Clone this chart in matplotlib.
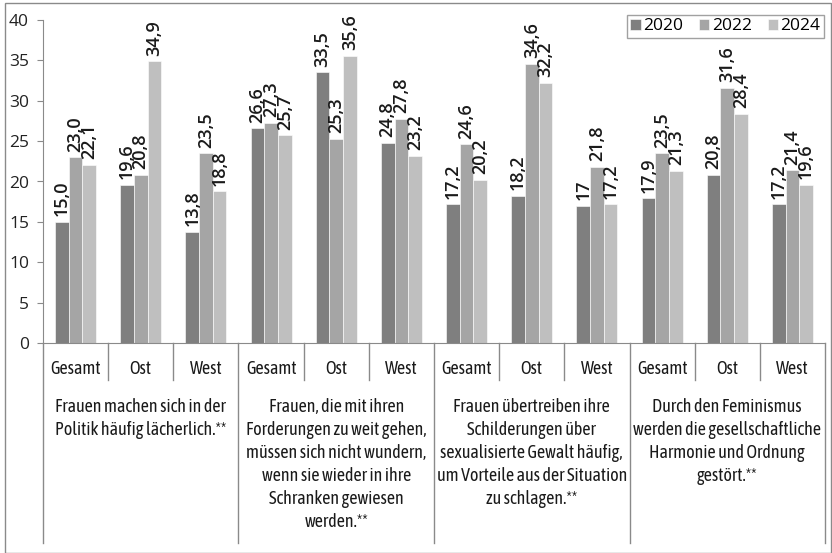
import numpy as np
import matplotlib
matplotlib.use("Agg")
import matplotlib.pyplot as plt
from matplotlib.patches import Rectangle
from matplotlib.transforms import blended_transform_factory

# data
years = ['2020', '2022', '2024']
regions = ['Gesamt', 'Ost', 'West']
v2020 = [15.0, 19.6, 13.8, 26.6, 33.5, 24.8, 17.2, 18.2, 17.0, 17.9, 20.8, 17.2]
v2022 = [23.0, 20.8, 23.5, 27.3, 25.3, 27.8, 24.6, 34.6, 21.8, 23.5, 31.6, 21.4]
v2024 = [22.1, 34.9, 18.8, 25.7, 35.6, 23.2, 20.2, 32.2, 17.2, 21.3, 28.4, 19.6]
lab2020 = ['15,0', '19,6', '13,8', '26,6', '33,5', '24,8', '17,2', '18,2', '17', '17,9', '20,8', '17,2']
lab2022 = ['23,0', '20,8', '23,5', '27,3', '25,3', '27,8', '24,6', '34,6', '21,8', '23,5', '31,6', '21,4']
lab2024 = ['22,1', '34,9', '18,8', '25,7', '35,6', '23,2', '20,2', '32,2', '17,2', '21,3', '28,4', '19,6']
statements = [
    ['Frauen machen sich in der', 'Politik häufig lächerlich.**'],
    ['Frauen, die mit ihren', 'Forderungen zu weit gehen,', 'müssen sich nicht wundern,',
     'wenn sie wieder in ihre', 'Schranken gewiesen', 'werden.**'],
    ['Frauen übertreiben ihre', 'Schilderungen über', 'sexualisierte Gewalt häufig,',
     'um Vorteile aus der Situation', 'zu schlagen.**'],
    ['Durch den Feminismus', 'werden die gesellschaftliche', 'Harmonie und Ordnung', 'gestört.**'],
]

colors = ['#7f7f7f', '#a5a5a5', '#bfbfbf']
num_font = ['Open Sans', 'DejaVu Sans']
cond_font = ['Asap Condensed', 'DejaVu Sans']
line_col = '#8a8a8a'

W, H = 832, 553
fig = plt.figure(figsize=(W / 100, H / 100), dpi=100)
# axes placed in pixel terms: x 43..825, y 20..343
ax = fig.add_axes([43 / W, 1 - 343 / H, (825 - 43) / W, (343 - 20) / H])

x = np.arange(len(v2020))
bw = 0.21
series = [v2020, v2022, v2024]
labels = [lab2020, lab2022, lab2024]
for i in range(3):
    bars = ax.bar(x + (i - 1) * bw, series[i], bw, color=colors[i], edgecolor='white',
                  linewidth=0.4, label=years[i], zorder=2)
    for b, t in zip(bars, labels[i]):
        ax.annotate(t, (b.get_x() + b.get_width() / 2, b.get_height()),
                    xytext=(0, 4), textcoords='offset points', rotation=90,
                    ha='center', va='bottom', fontsize=13, fontweight='semibold',
                    family=num_font, color='#1a1a1a')

ax.set_xlim(-0.5, len(x) - 0.5)
ax.set_ylim(0, 40)
ax.set_yticks(range(0, 41, 5))
ax.set_xticks([])
for lbl in ax.get_yticklabels():
    lbl.set_family(num_font)
    lbl.set_fontsize(12.5)
    lbl.set_color('#222222')
ax.tick_params(axis='y', length=4, color=line_col, pad=6)
for s in ['top', 'right']:
    ax.spines[s].set_visible(False)
ax.spines['left'].set_color(line_col)
ax.spines['bottom'].set_color(line_col)

# category axis below the plot
def py(p):
    return (343 - p) / 323

tr = blended_transform_factory(ax.transData, ax.transAxes)
for k in range(len(x)):
    ax.text(k, py(369), regions[k % 3], transform=tr, ha='center', va='center',
            fontsize=13, family=cond_font, color='#1a1a1a')
for k in range(len(x) + 1):
    bottom = py(543) if k % 3 == 0 else py(380)
    ax.plot([k - 0.5, k - 0.5], [0, bottom], transform=tr, color=line_col,
            lw=1, clip_on=False)
for g, lines in enumerate(statements):
    for j, line in enumerate(lines):
        ax.text(3 * g + 1, py(407 + 23 * j), line, transform=tr, ha='center', va='center',
                fontsize=13, family=cond_font, color='#1a1a1a')

leg = ax.legend(loc='upper right', bbox_to_anchor=(824 / W, 1 - 15 / H),
                bbox_transform=fig.transFigure, borderaxespad=0, ncol=3, frameon=True,
                fancybox=False, edgecolor=line_col, handlelength=0.6, handleheight=0.6,
                handletextpad=0.15, columnspacing=0.9, borderpad=0.2,
                prop={'family': num_font, 'size': 12.5})
leg.get_frame().set_linewidth(1)

# outer border of the chart
fig.patches.append(Rectangle((4.5 / W, 0.5 / H), (W - 5.5) / W, (H - 3.5) / H,
                             transform=fig.transFigure, fill=False,
                             edgecolor=line_col, lw=1))

fig.savefig('out.png', dpi=100)
